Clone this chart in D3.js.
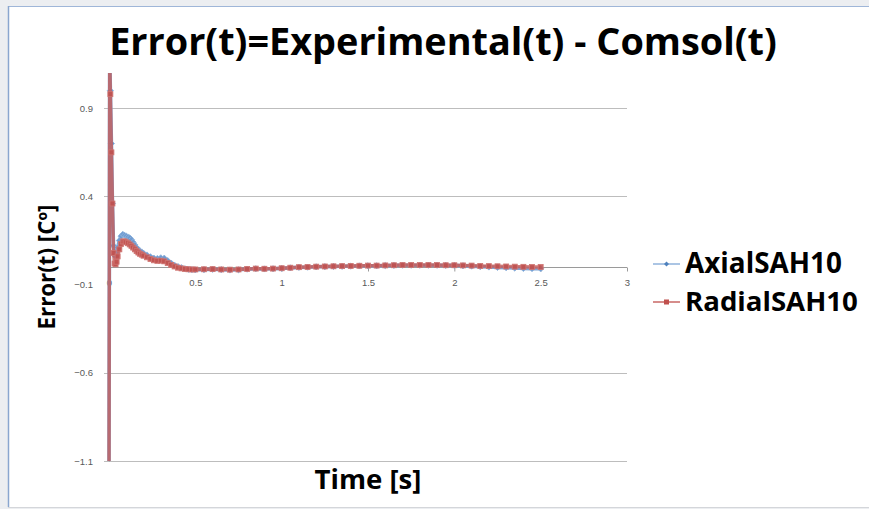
<!DOCTYPE html>
<html><head><meta charset="utf-8">
<script src="https://cdn.jsdelivr.net/npm/d3@7"></script>
<style>body{margin:0;background:#fff}svg{display:block}</style>
</head><body>
<svg id="c" width="869" height="509"></svg>
<script>
const titleText = "Error(t)=Experimental(t) - Comsol(t)";
const xLabel = "Time [s]";
const yLabel = "Error(t) [Cº]";
const seriesNames = ["AxialSAH10", "RadialSAH10"];
const yTicks = [-1.1, -0.6, -0.1, 0.4, 0.9];
const yGridTicks = [-1.1, -0.6, 0.4, 0.9];
const xTicks = [0, 0.5, 1, 1.5, 2, 2.5, 3];
const xTickLabels = ["0", "0.5", "1", "1.5", "2", "2.5", "3"];
const times = [0, 0.004, 0.008, 0.014, 0.02, 0.026, 0.032, 0.038, 0.044, 0.05,
  0.06, 0.07, 0.08, 0.09, 0.10, 0.11, 0.12, 0.13, 0.14, 0.15, 0.16, 0.17, 0.18, 0.19, 0.20,
  0.22, 0.24, 0.26, 0.28, 0.30, 0.32, 0.34, 0.36, 0.38, 0.40, 0.42, 0.44, 0.46, 0.48, 0.50,
  0.55, 0.60, 0.65, 0.70, 0.75, 0.80, 0.85, 0.90, 0.95, 1.00, 1.05, 1.10, 1.15, 1.20, 1.25,
  1.30, 1.35, 1.40, 1.45, 1.50, 1.55, 1.60, 1.65, 1.70, 1.75, 1.80, 1.85, 1.90, 1.95, 2.00,
  2.05, 2.10, 2.15, 2.20, 2.25, 2.30, 2.35, 2.40, 2.45, 2.50];
const axial = [-1.2, 1.2, 1.0, 0.7, 0.36, 0.12, 0.07, 0.06, 0.08, 0.11,
  0.15, 0.175, 0.185, 0.18, 0.175, 0.17, 0.165, 0.155, 0.14, 0.125, 0.11, 0.10, 0.09, 0.085, 0.078,
  0.068, 0.058, 0.05, 0.048, 0.052, 0.05, 0.036, 0.022, 0.01, 0.002, -0.004, -0.01, -0.013, -0.015, -0.016,
  -0.015, -0.013, -0.015, -0.017, -0.016, -0.012, -0.01, -0.011, -0.01, -0.008, -0.005, -0.002, -0.001, 0.001, 0.002,
  0.003, 0.004, 0.005, 0.006, 0.007, 0.007, 0.008, 0.009, 0.01, 0.01, 0.01, 0.01, 0.01, 0.009, 0.009,
  0.007, 0.005, 0.002, 0.0, -0.002, -0.004, -0.006, -0.008, -0.009, -0.01];
const radial = [-1.2, 1.2, 0.98, 0.65, 0.36, 0.08, 0.02, 0.015, 0.03, 0.06,
  0.10, 0.13, 0.145, 0.145, 0.14, 0.135, 0.128, 0.12, 0.11, 0.10, 0.09, 0.082, 0.075, 0.07, 0.064,
  0.055, 0.045, 0.038, 0.035, 0.036, 0.032, 0.022, 0.012, 0.003, -0.004, -0.008, -0.011, -0.013, -0.014, -0.014,
  -0.013, -0.012, -0.014, -0.015, -0.014, -0.011, -0.009, -0.01, -0.009, -0.007, -0.004, -0.001, 0.0, 0.002, 0.003,
  0.004, 0.005, 0.006, 0.007, 0.008, 0.008, 0.009, 0.01, 0.011, 0.011, 0.011, 0.011, 0.011, 0.01, 0.01,
  0.009, 0.008, 0.006, 0.005, 0.004, 0.003, 0.002, 0.001, 0.0, 0.0];

const W = 869, H = 509;
const svg = d3.select("#c");
const pLeft = 109, pRight = 627, pTop = 73, pBottom = 461;
const x = d3.scaleLinear().domain([0, 3]).range([pLeft, pRight]);
const y = d3.scaleLinear().domain([-1.1, 1.1]).range([pBottom, pTop]);

// frame
svg.append("rect").attr("width", W).attr("height", H).attr("fill", "#eceef1");
svg.append("rect").attr("x", 8).attr("y", 6).attr("width", W).attr("height", 501).attr("fill", "#ffffff");
svg.append("line").attr("x1", 8).attr("x2", W).attr("y1", 6.5).attr("y2", 6.5).attr("stroke", "#9fb6d8").attr("stroke-width", 1.2);
svg.append("line").attr("x1", 8.5).attr("x2", 8.5).attr("y1", 6).attr("y2", 507).attr("stroke", "#8aa6cf").attr("stroke-width", 1.5);
svg.append("line").attr("x1", 8).attr("x2", W).attr("y1", 507.5).attr("y2", 507.5).attr("stroke", "#d4d6da");

function fit(sel, target) {
  const w = sel.node().getComputedTextLength();
  const fs = parseFloat(sel.attr("font-size"));
  sel.attr("font-size", fs * target / w);
}

// title
const tt = svg.append("text").attr("x", 443).attr("y", 55).attr("text-anchor", "middle")
  .attr("font-family", "Open Sans").attr("font-weight", "bold").attr("font-size", 28).attr("fill", "#000").text(titleText);
fit(tt, 668);

// gridlines
svg.append("g").selectAll("line").data(yGridTicks).join("line")
  .attr("x1", pLeft - 5).attr("x2", pRight).attr("y1", d => Math.round(y(d)) + 0.5).attr("y2", d => Math.round(y(d)) + 0.5)
  .attr("stroke", "#bdbdbd").attr("stroke-width", 1);

// y axis
const yAxis = d3.axisLeft(y).tickValues(yTicks).tickSize(0).tickPadding(16).tickFormat(d3.format(".1f"));
const gy = svg.append("g").attr("transform", `translate(${pLeft},0)`).call(yAxis);
gy.select(".domain").attr("stroke", "#9a9a9a");
gy.selectAll("text").attr("font-family", "Liberation Sans").attr("font-size", 9.5).attr("fill", "#595959");

// x axis at y=0
const xAxis = d3.axisBottom(x).tickValues(xTicks).tickSize(4).tickPadding(8).tickFormat((d, i) => xTickLabels[i]);
const gx = svg.append("g").attr("transform", `translate(0,${Math.round(y(0)) + 0.5})`).call(xAxis);
gx.select(".domain").attr("stroke", "#9a9a9a").attr("d", `M${pLeft},0H${pRight}`);
gx.selectAll(".tick line").attr("stroke", "#9a9a9a");
gx.selectAll("text").attr("font-family", "Liberation Sans").attr("font-size", 9.5).attr("fill", "#595959");

// clip
svg.append("clipPath").attr("id", "clip").append("rect")
  .attr("x", pLeft - 4).attr("y", pTop).attr("width", pRight - pLeft + 8).attr("height", pBottom - pTop);

const plot = svg.append("g").attr("clip-path", "url(#clip)");
const line = d3.line().x((d, i) => x(times[i])).y(d => y(d));
[axial, radial].forEach((vals, k) => {
  plot.append("path").datum(vals).attr("d", line).attr("fill", "none")
    .attr("stroke", k === 0 ? "#7ea6d6" : "#c65b58").attr("stroke-width", k === 0 ? 3.6 : 3.4)
    .attr("stroke-linejoin", "round").attr("stroke-opacity", k === 0 ? 1 : 0.8);
  const g = plot.append("g");
  if (k === 0) {
    g.selectAll("path").data(vals).join("path")
      .attr("transform", (d, i) => `translate(${x(times[i])},${y(d)}) rotate(45)`)
      .attr("d", "M-2.2,-2.2H2.2V2.2H-2.2Z").attr("fill", "#6f9bd1").attr("stroke", "#8fb2dc").attr("stroke-width", 0.8);
  } else {
    g.selectAll("rect").data(vals).join("rect")
      .attr("x", (d, i) => x(times[i]) - 2.5).attr("y", d => y(d) - 2.5).attr("width", 5).attr("height", 5)
      .attr("fill", "#c0504d").attr("stroke", "#d07572").attr("stroke-width", 0.8).attr("fill-opacity", 0.85);
  }
});

// axis titles
const xl = svg.append("text").attr("x", (pLeft + pRight) / 2).attr("y", 489).attr("text-anchor", "middle")
  .attr("font-family", "Open Sans").attr("font-weight", "bold").attr("font-size", 20).attr("fill", "#000").text(xLabel);
fit(xl, 107);
const yl = svg.append("text").attr("transform", `translate(55,${(pTop + pBottom) / 2}) rotate(-90)`).attr("text-anchor", "middle")
  .attr("font-family", "Open Sans").attr("font-weight", "bold").attr("font-size", 18).attr("fill", "#000").text(yLabel);
fit(yl, 125);

// legend
const legY = [264, 302];
seriesNames.forEach((name, k) => {
  const g = svg.append("g");
  g.append("line").attr("x1", 653).attr("x2", 680).attr("y1", legY[k]).attr("y2", legY[k])
    .attr("stroke", k === 0 ? "#7ea6d6" : "#c0504d").attr("stroke-width", 1.3);
  if (k === 0) {
    g.append("path").attr("transform", `translate(666.5,${legY[k]}) rotate(45)`).attr("d", "M-1.8,-1.8H1.8V1.8H-1.8Z").attr("fill", "#4f81bd");
  } else {
    g.append("rect").attr("x", 664).attr("y", legY[k] - 2.5).attr("width", 5).attr("height", 5).attr("fill", "#c0504d");
  }
  const t = g.append("text").attr("x", 685).attr("y", legY[k] + 9).attr("font-family", "Open Sans").attr("font-weight", "bold")
    .attr("font-size", 22).attr("fill", "#000").text(name);
  fit(t, k === 0 ? 157 : 173);
});
</script>
</body></html>
